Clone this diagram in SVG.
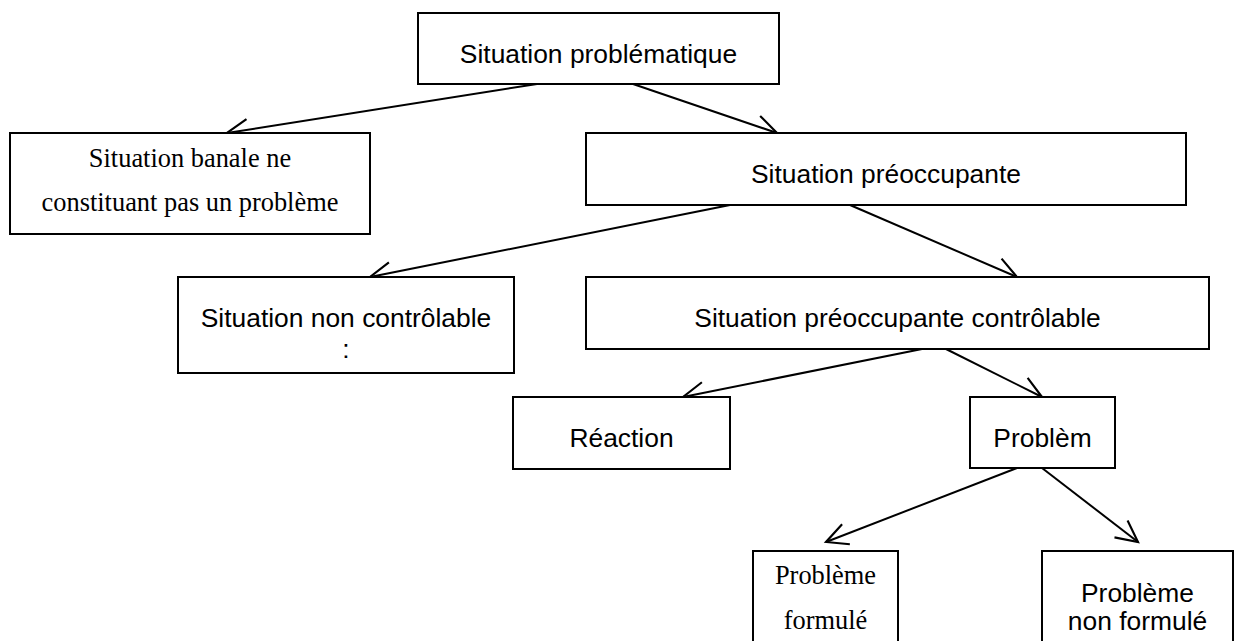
<svg xmlns="http://www.w3.org/2000/svg" width="1236" height="641" viewBox="0 0 1236 641">
<defs>
<marker id="ah" markerUnits="userSpaceOnUse" markerWidth="30" markerHeight="30" viewBox="-24 -14 28 28" refX="0" refY="0" orient="auto">
<path d="M -20,-10 L 0,0 L -20,10" fill="none" stroke="#000" stroke-width="2"/>
</marker>
<style>
.box{fill:#fff;stroke:#000;stroke-width:2}
.sans{font-family:"Liberation Sans",Arial,sans-serif;font-size:26.4px;fill:#000;text-anchor:middle}
.serif{font-family:"Liberation Serif","Times New Roman",serif;font-size:26.4px;fill:#000;text-anchor:middle}
.edge{stroke:#000;stroke-width:2;fill:none;marker-end:url(#ah)}
</style>
</defs>
<rect width="1236" height="641" fill="#fff"/>
<g id="connectors">
<line class="edge" x1="537" y1="84" x2="227" y2="133"/>
<line class="edge" x1="633" y1="84" x2="777" y2="133"/>
<line class="edge" x1="730" y1="205" x2="370" y2="277"/>
<line class="edge" x1="850" y1="205" x2="1017" y2="277"/>
<line class="edge" x1="922" y1="349" x2="683" y2="397"/>
<line class="edge" x1="946" y1="349" x2="1042" y2="397"/>
<line class="edge" x1="1017" y1="468" x2="826" y2="542"/>
<line class="edge" x1="1042" y1="468" x2="1138" y2="542"/>
</g>
<g id="n1">
<rect class="box" x="418" y="13" width="361" height="71"/>
<text class="sans" x="598.5" y="63">Situation problématique</text>
</g>
<g id="n2">
<rect class="box" x="10" y="133" width="360" height="101"/>
<text class="serif" x="190" y="167">Situation banale ne</text>
<text class="serif" x="190" y="211">constituant pas un problème</text>
</g>
<g id="n3">
<rect class="box" x="586" y="133" width="600" height="72"/>
<text class="sans" x="886" y="183">Situation préoccupante</text>
</g>
<g id="n4">
<rect class="box" x="178" y="277" width="336" height="96"/>
<text class="sans" x="346" y="327">Situation non contrôlable</text>
<text class="sans" x="346" y="358">:</text>
</g>
<g id="n5">
<rect class="box" x="586" y="277" width="623" height="72"/>
<text class="sans" x="897.5" y="327">Situation préoccupante contrôlable</text>
</g>
<g id="n6">
<rect class="box" x="513" y="397" width="217" height="72"/>
<text class="sans" x="621.5" y="447">Réaction</text>
</g>
<g id="n7">
<rect class="box" x="970" y="397" width="145" height="71"/>
<text class="sans" x="1042.5" y="447">Problèm</text>
</g>
<g id="n8">
<rect class="box" x="753" y="551" width="145" height="110"/>
<text class="serif" x="825.5" y="584">Problème</text>
<text class="serif" x="825.5" y="629">formulé</text>
</g>
<g id="n9">
<rect class="box" x="1042" y="551" width="191" height="110"/>
<text class="sans" x="1137.5" y="602">Problème</text>
<text class="sans" x="1137.5" y="630">non formulé</text>
</g>
</svg>
